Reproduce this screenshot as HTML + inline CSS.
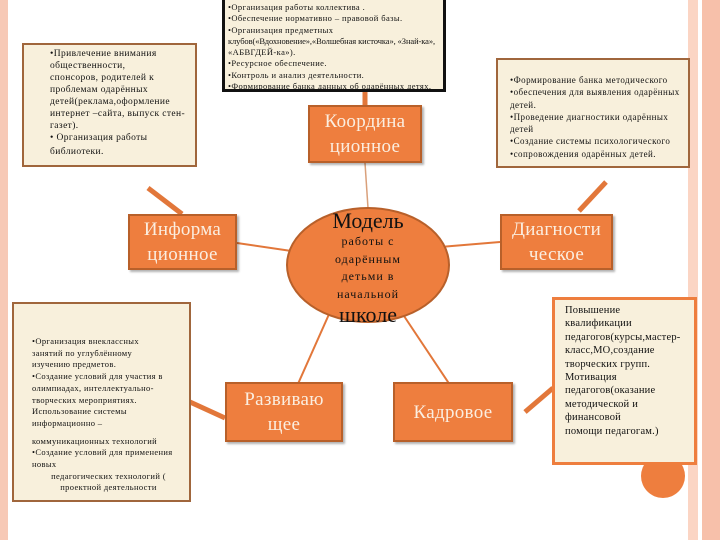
<!DOCTYPE html>
<html><head><meta charset="utf-8"><style>
body{margin:0;width:720px;height:540px;overflow:hidden;background:#fff;position:relative;font-family:"Liberation Serif",serif;}
.a{position:absolute;box-sizing:border-box}
.note{background:#f8f0dc;color:#111;white-space:nowrap;overflow:hidden}
.box{background:#ee7e3e;border:2px solid #b8602a;color:#fbeee0;font-size:19px;line-height:25px;letter-spacing:0.3px;text-align:center;display:flex;align-items:center;justify-content:center;box-shadow:2px 2px 2px rgba(0,0,0,.3)}
</style></head><body>
<div class="a" style="left:0;top:0;width:8px;height:540px;background:#f7c9b6"></div>
<div class="a" style="left:688px;top:0;width:10px;height:540px;background:#fbd5c4"></div>
<div class="a" style="left:702px;top:0;width:18px;height:540px;background:#f7c0aa"></div>

<svg class="a" style="left:0;top:0" width="720" height="540">
<g stroke="#e2773a" fill="none">
<line x1="365" y1="90" x2="365" y2="106" stroke-width="5"/>
<line x1="365" y1="163" x2="368" y2="208" stroke-width="1.5" stroke="#d9a07a"/>
<line x1="237" y1="243" x2="305" y2="253" stroke-width="2"/>
<line x1="500" y1="242" x2="428" y2="248" stroke-width="2"/>
<line x1="330" y1="312" x2="273" y2="440" stroke-width="2"/>
<line x1="402" y1="313" x2="468" y2="412" stroke-width="2"/>
<line x1="148" y1="188" x2="182" y2="214" stroke-width="5"/>
<line x1="579" y1="211" x2="606" y2="182" stroke-width="5"/>
<line x1="190" y1="402" x2="225" y2="418" stroke-width="5"/>
<line x1="525" y1="412" x2="553" y2="388" stroke-width="5"/>
</g>
<circle cx="663" cy="476" r="22" fill="#ee7e3e"/>
<ellipse cx="368" cy="265" rx="81" ry="57" fill="#ee7e3e" stroke="#b8602a" stroke-width="2"/>
</svg>

<div class="a note" style="left:222px;top:-6px;width:224px;height:98px;border:3px solid #111;padding:5px 3px;font-size:8.5px;line-height:11.3px;letter-spacing:0.4px">•Организация работы коллектива .<br>•Обеспечение нормативно – правовой базы.<br>•Организация предметных<br><span style="letter-spacing:-0.1px">клубов(«Вдохновение»,«Волшебная кисточка», «Знай-ка»,</span><br>«АБВГДЕЙ-ка»).<br>•Ресурсное обеспечение.<br>•Контроль и анализ деятельности.<br>•Формирование банка данных об одарённых детях.</div>

<div class="a note" style="left:22px;top:43px;width:175px;height:124px;border:2px solid #a0663c;padding:3px 4px 0 26px;font-size:9.5px;line-height:12px;letter-spacing:0.4px">•Привлечение внимания<br>общественности,<br>спонсоров, родителей к<br>проблемам одарённых<br>детей(реклама,оформление<br>интернет –сайта, выпуск стен-<br>газет).<br>• Организация работы<br><span style="line-height:16px">библиотеки.</span></div>

<div class="a note" style="left:496px;top:58px;width:194px;height:110px;border:2px solid #a0663c;padding:14px 4px 0 12px;font-size:9px;line-height:12.3px;letter-spacing:0.45px">•Формирование банка методического<br>•обеспечения для выявления одарённых<br>детей.<br>•Проведение диагностики одарённых<br>детей<br>•Создание системы психологического<br>•сопровождения одарённых детей.</div>

<div class="a note" style="left:12px;top:302px;width:179px;height:200px;border:2px solid #a0663c;padding:32px 4px 0 18px;font-size:8.5px;line-height:11.7px;letter-spacing:0.35px">•Организация внеклассных<br>занятий по углублённому<br>изучению предметов.<br>•Создание условий для участия в<br>олимпиадах, интеллектуально-<br>творческих мероприятиях.<br>Использование системы<br>информационно –<br><div style="margin-top:6px">коммуникационных технологий</div>•Создание условий для применения<br>новых<div style="text-align:center">педагогических технологий (<br>проектной деятельности</div></div>

<div class="a note" style="left:552px;top:297px;width:145px;height:168px;border:3px solid #ee7e3e;padding:4px 2px 0 10px;font-size:10.5px;line-height:13.4px;letter-spacing:0.2px">Повышение<br>квалификации<br>педагогов(курсы,мастер-<br>класс,МО,создание<br>творческих групп.<br>Мотивация<br>педагогов(оказание<br>методической и<br>финансовой<br>помощи педагогам.)</div>

<div class="a box" style="left:308px;top:105px;width:114px;height:58px">Координа<br>ционное</div>
<div class="a box" style="left:128px;top:214px;width:109px;height:56px">Информа<br>ционное</div>
<div class="a box" style="left:500px;top:214px;width:113px;height:56px">Диагности<br>ческое</div>
<div class="a box" style="left:225px;top:382px;width:118px;height:60px">Развиваю<br>щее</div>
<div class="a box" style="left:393px;top:382px;width:120px;height:60px">Кадровое</div>

<div class="a" style="left:290px;top:209px;width:156px;text-align:center;color:#111">
<div style="font-size:22px;line-height:24px">Модель</div>
<div style="font-size:12px;line-height:17.5px;letter-spacing:1px">работы с<br>одарённым<br>детьми в<br>начальной</div>
<div style="font-size:22px;line-height:24px">школе</div>
</div>
</body></html>
